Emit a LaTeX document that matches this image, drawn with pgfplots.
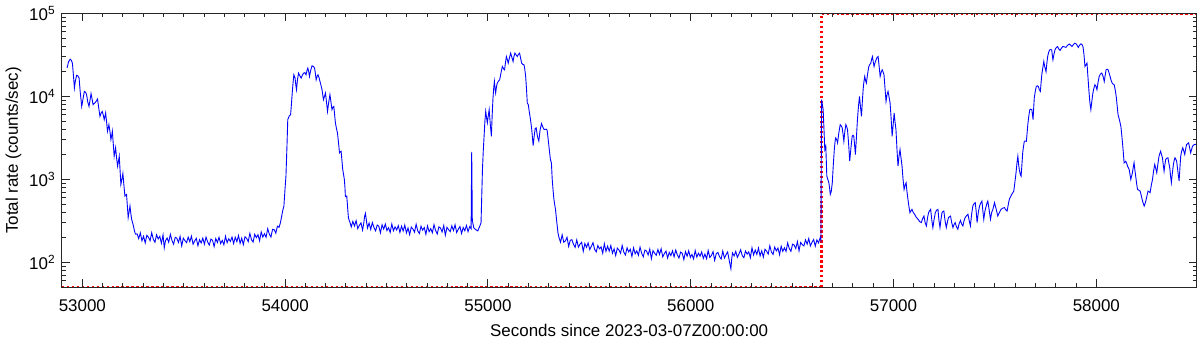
\documentclass[border=0pt]{standalone}
\usepackage{fontspec}
\setmainfont{Liberation Sans}
\usepackage{pgfplots}
\pgfplotsset{compat=1.18}
\begin{document}
\fontsize{8.5pt}{10pt}\selectfont
\begin{tikzpicture}
\begin{axis}[
  scale only axis,
  width=569.2pt, height=137.5pt,
  ymode=log,
  xmin=52898, xmax=58495,
  ymin=50, ymax=100000,
  axis on top,
  scaled x ticks=false,
  tick align=inside,
  major tick length=4pt, minor tick length=2pt,
  axis line style={line width=0.6pt, black!85},
  every tick/.style={line width=0.5pt, black!85},
  xtick={53000,54000,55000,56000,57000,58000},
  xticklabels={53000,54000,55000,56000,57000,58000},
  minor x tick num=9,
  ytick={100,1000,10000,100000},
  yticklabels={10\textsuperscript{2},10\textsuperscript{3},10\textsuperscript{4},10\textsuperscript{5}},
  minor ytick={50,60,70,80,90,200,300,400,500,600,700,800,900,2000,3000,4000,5000,6000,7000,8000,9000,20000,30000,40000,50000,60000,70000,80000,90000},
  xticklabel style={yshift=-3pt},
  xlabel={Seconds since 2023-03-07Z00:00:00},
  ylabel={Total rate (counts/sec)},
  xlabel style={yshift=-0.5pt},
  ylabel style={yshift=-2pt},
]
\addplot[red, line width=1.8pt, dash pattern=on 1.1pt off 1.4pt] coordinates {(52898,50) (56645,50)};
\addplot[red, line width=1.8pt, dash pattern=on 1.1pt off 1.4pt] coordinates {(56645,100000) (58495,100000)};
\addplot[red, line width=1.1pt, dash pattern=on 1.1pt off 1.4pt] coordinates {(56645,50) (56645,100000)};
\addplot[blue, line width=0.45pt] table {
x y
52925 22000
52932 26000
52940 28050
52946 27000
52951 25120
52956 18000
52961 12590
52966 15500
52972 17900
52978 17600
52984 16600
52990 11000
52997 7570
53004 9500
53010 11460
53016 11200
53021 10460
53027 8500
53033 7570
53038 9000
53043 10770
53048 9300
53053 7940
53058 8200
53062 8320
53068 8700
53075 9290
53081 7200
53087 5740
53093 6300
53098 6590
53103 6000
53108 5240
53112 5800
53115 6310
53120 4800
53124 3795
53128 4200
53131 4565
53136 3800
53141 3017
53145 3400
53148 3795
53152 2800
53157 1901
53160 2100
53164 2399
53169 1800
53174 1442
53178 1650
53182 1901
53186 1300
53190 870
53195 1000
53200 1179
53205 850
53210 630
53214 650
53218 660
53222 480
53226 347
53230 400
53235 478
53239 390
53243 331
53248 300
53252 275
53257 240
53262 219
53270 221
53278 194
53286 227
53294 182
53302 207
53310 172
53318 212
53326 201
53334 183
53342 228
53350 190
53358 175
53366 215
53374 192
53382 206
53390 170
53398 214
53404 150
53410 182
53418 197
53426 175
53434 218
53442 184
53450 166
53458 201
53466 196
53474 174
53482 206
53490 158
53498 196
53506 183
53514 173
53522 202
53530 178
53538 207
53546 166
53554 182
53562 195
53570 159
53578 188
53586 172
53594 196
53602 166
53610 202
53618 176
53626 162
53634 191
53642 185
53650 155
53658 194
53666 174
53674 201
53682 169
53690 184
53698 163
53706 207
53714 173
53722 193
53730 179
53738 202
53746 169
53754 201
53762 178
53770 211
53778 170
53786 196
53794 164
53802 204
53810 195
53818 178
53826 224
53834 188
53842 176
53850 218
53858 199
53866 216
53874 182
53882 233
53890 202
53898 222
53906 201
53914 255
53922 220
53930 202
53938 250
53946 248
53954 225
53962 273
53970 265
53977 302
53988 420
53994 478
54000 800
54004 1094
54009 2500
54013 5240
54020 5800
54027 6020
54031 8000
54035 10960
54039 14500
54043 18180
54049 16600
54053 13500
54056 12010
54061 16000
54066 19050
54072 17800
54079 16600
54086 18200
54092 19050
54097 19300
54103 18180
54108 20500
54112 21880
54116 20000
54120 17340
54127 21000
54133 23300
54139 23000
54145 21880
54149 19000
54153 15830
54158 17500
54162 18180
54167 16800
54172 15100
54177 13500
54182 12010
54186 10200
54189 9110
54194 10000
54199 10960
54204 8500
54209 6590
54215 8500
54221 10460
54226 8500
54231 6910
54236 7400
54240 7570
54244 6000
54248 4790
54253 4100
54258 3630
54263 2800
54268 2089
54272 2150
54276 2183
54280 1700
54284 1317
54288 1150
54292 999
54295 800
54297 630
54300 620
54304 630
54308 460
54312 347
54316 320
54320 302
54326 268
54334 312
54342 275
54350 319
54358 256
54366 280
54374 299
54382 245
54388 300
54392 360
54396 390
54400 330
54406 260
54414 298
54422 250
54430 302
54438 264
54446 240
54454 282
54462 273
54470 227
54478 284
54486 252
54494 290
54502 242
54510 262
54518 230
54526 290
54534 241
54542 268
54550 246
54558 277
54566 230
54574 273
54582 239
54590 282
54598 227
54606 260
54614 216
54622 266
54630 254
54638 231
54646 288
54654 240
54662 223
54670 273
54678 245
54686 263
54694 218
54702 275
54710 235
54718 255
54726 228
54734 285
54742 243
54750 220
54758 268
54766 260
54774 233
54782 278
54790 213
54798 265
54806 248
54814 235
54822 276
54830 243
54838 284
54846 229
54854 252
54862 271
54870 223
54878 264
54886 241
54894 278
54902 235
54910 270
54917 255
54920 2150
54923 320
54930 262
54940 248
54950 240
54960 275
54966 300
54970 700
54973 1317
54977 2200
54981 3305
54985 5000
54989 6590
54993 5600
54997 4790
55002 5900
55006 6910
55011 4800
55017 3305
55021 6000
55025 9550
55029 13000
55032 15100
55035 12500
55038 10960
55042 13000
55046 14450
55052 15200
55058 15830
55065 19500
55071 22860
55077 21500
55082 20870
55087 26000
55091 30130
55096 27500
55100 25120
55106 29000
55112 33110
55118 29500
55124 26250
55128 30000
55133 33110
55139 31500
55145 30130
55150 32000
55156 33110
55161 29000
55166 25120
55172 24200
55178 23970
55182 21000
55186 17340
55190 12500
55194 8320
55199 7940
55204 6500
55210 5240
55216 4000
55223 2550
55228 3300
55233 4100
55238 4170
55244 3300
55251 2900
55257 3900
55264 4700
55270 4300
55277 3980
55282 4000
55287 4020
55292 3900
55300 2600
55308 1736
55313 1585
55317 999
55321 750
55325 586
55329 500
55333 436
55340 300
55345 230
55350 201
55358 175
55366 215
55374 175
55382 182
55390 201
55398 156
55406 185
55414 188
55422 165
55430 152
55438 187
55446 153
55454 166
55462 175
55470 136
55478 169
55486 152
55494 172
55502 143
55510 156
55518 173
55526 144
55534 134
55542 160
55550 146
55558 154
55566 129
55574 168
55582 136
55590 157
55598 137
55606 160
55614 129
55622 146
55630 121
55638 149
55646 141
55654 129
55662 160
55670 133
55678 123
55686 150
55694 134
55702 144
55710 118
55718 150
55726 127
55734 138
55742 122
55750 153
55758 129
55766 117
55774 141
55782 137
55790 123
55798 145
55806 111
55814 139
55822 129
55830 122
55838 143
55846 125
55854 146
55862 117
55870 128
55878 137
55886 113
55894 132
55902 121
55910 138
55918 117
55926 141
55934 123
55942 113
55950 133
55958 129
55966 108
55974 135
55982 119
55990 138
55998 115
56006 125
56014 110
56022 139
56030 116
56038 129
56046 119
56054 134
56062 112
56070 126
56078 111
56086 139
56094 115
56102 121
56110 135
56118 106
56126 128
56134 132
56142 117
56150 110
56158 137
56166 113
56174 124
56182 134
56190 105
56198 84
56202 110
56206 130
56214 120
56222 136
56230 115
56238 127
56246 142
56254 121
56262 114
56270 137
56278 126
56286 134
56294 114
56302 150
56310 123
56318 141
56326 125
56334 149
56342 120
56350 138
56358 116
56366 144
56374 137
56382 126
56390 159
56398 133
56406 125
56414 153
56422 138
56430 149
56438 124
56446 157
56454 136
56462 150
56470 136
56478 172
56486 147
56494 136
56502 166
56510 162
56518 147
56526 178
56534 138
56542 174
56550 164
56558 158
56566 187
56574 166
56582 194
56590 158
56598 175
56606 189
56614 157
56622 187
56630 172
56638 198
56642 185
56645 9110
56649 8000
56653 6910
56657 4000
56661 2289
56666 2506
56671 1094
56676 1000
56681 912
56685 780
56688 660
56693 720
56698 912
56703 1500
56708 2289
56712 2900
56715 3160
56720 3000
56724 2754
56730 3600
56737 4565
56742 4400
56747 4170
56751 3500
56755 2877
56760 3800
56765 4565
56769 4300
56773 3980
56778 2800
56784 1656
56790 2400
56796 3305
56800 3400
56804 3305
56808 2600
56812 1993
56817 3200
56822 5240
56827 7500
56832 9980
56837 7500
56842 5740
56846 8500
56850 12010
56854 15000
56858 17340
56862 15500
56866 14450
56872 18500
56878 22860
56883 24200
56888 25120
56892 28000
56896 30130
56900 26000
56904 22860
56909 25500
56914 27520
56919 29500
56924 30130
56929 23000
56934 17340
56939 19500
56944 20870
56948 19800
56953 18180
56958 12500
56963 8690
56968 10500
56973 11460
56978 9800
56983 8320
56988 5500
56993 3305
56998 4500
57003 6310
57007 5000
57012 3980
57017 2300
57022 1442
57027 1900
57032 2289
57037 1800
57042 1442
57047 1000
57052 758
57057 850
57062 912
57066 720
57071 575
57076 470
57081 398
57091 436
57097 400
57104 380
57112 350
57121 331
57129 310
57137 302
57144 340
57150 362
57156 300
57162 275
57168 350
57173 398
57178 420
57183 436
57189 320
57194 263
57200 330
57206 398
57212 425
57219 436
57224 320
57229 263
57234 330
57239 398
57244 410
57248 416
57254 320
57260 263
57266 310
57271 347
57276 355
57281 362
57287 300
57293 263
57298 285
57304 302
57310 270
57317 251
57323 290
57330 320
57336 290
57342 275
57348 320
57353 347
57360 365
57367 380
57373 320
57379 275
57385 380
57391 478
57397 510
57403 525
57408 400
57412 302
57418 400
57424 478
57430 520
57436 548
57440 430
57445 331
57451 420
57457 478
57461 520
57465 548
57472 420
57478 331
57484 400
57490 436
57494 480
57498 525
57506 440
57514 362
57522 400
57530 436
57538 450
57547 457
57553 430
57560 416
57566 500
57571 575
57577 620
57583 660
57588 690
57593 723
57599 950
57604 1202
57609 1600
57613 1901
57617 1500
57620 1317
57625 1150
57629 1094
57633 1500
57637 2089
57641 2500
57645 2877
57650 2900
57655 2877
57659 3700
57662 4565
57667 5800
57672 6910
57677 7000
57682 6910
57685 6000
57688 5240
57691 7200
57694 9550
57699 11500
57704 13150
57709 13400
57714 13150
57719 12000
57724 11460
57728 15000
57731 18180
57736 22000
57741 26250
57746 22500
57752 19800
57756 25000
57760 30130
57765 34000
57770 36260
57775 36500
57780 36260
57783 31000
57786 27520
57791 32000
57796 36260
57802 38500
57809 39800
57815 37000
57821 35700
57828 38000
57834 39800
57842 39500
57850 38800
57858 41000
57866 42600
57873 41500
57880 39800
57887 42000
57894 43600
57902 42500
57911 38800
57918 41500
57924 42800
57929 42000
57934 39800
57939 32000
57944 22860
57949 24000
57954 25120
57958 18000
57963 12010
57968 8500
57973 6910
57978 8800
57983 10960
57988 12500
57993 13790
57998 13200
58003 12010
58008 14500
58014 17340
58020 18500
58027 19050
58033 17500
58039 15100
58043 17500
58048 20870
58053 21200
58058 20870
58063 19000
58068 17340
58073 15500
58078 14450
58083 14000
58088 13790
58093 12000
58098 9980
58102 8000
58107 6020
58114 5200
58121 4355
58125 3500
58129 2754
58133 2100
58137 1585
58141 1620
58145 1656
58150 1550
58154 1442
58158 1380
58162 1317
58166 1150
58170 999
58174 1100
58178 1202
58182 1400
58186 1585
58190 1300
58195 1047
58199 880
58203 758
58210 740
58216 723
58222 630
58228 548
58232 510
58236 478
58240 510
58244 548
58250 640
58255 723
58260 710
58265 692
58271 850
58277 999
58282 1250
58288 1512
58293 1350
58298 1202
58303 1500
58309 1901
58313 2050
58317 2183
58321 2000
58326 1820
58330 1500
58334 1256
58338 1500
58342 1736
58347 1800
58353 1820
58357 1600
58362 1380
58366 1100
58370 912
58375 1200
58380 1512
58384 1700
58388 1820
58392 1750
58396 1656
58402 1250
58408 955
58412 1350
58416 1901
58421 2200
58426 2399
58431 2200
58436 1993
58440 2300
58445 2627
58450 2700
58455 2754
58460 2400
58465 2089
58470 2300
58474 2506
58480 2600
58485 2627
58492 2650
};
\coordinate (bl) at (rel axis cs:0,0);
\coordinate (tr) at (rel axis cs:1,1);
\end{axis}
\path (bl) ++(-29.15pt,-25.85pt) (tr) ++(1.65pt,6.65pt);
\end{tikzpicture}
\end{document}
